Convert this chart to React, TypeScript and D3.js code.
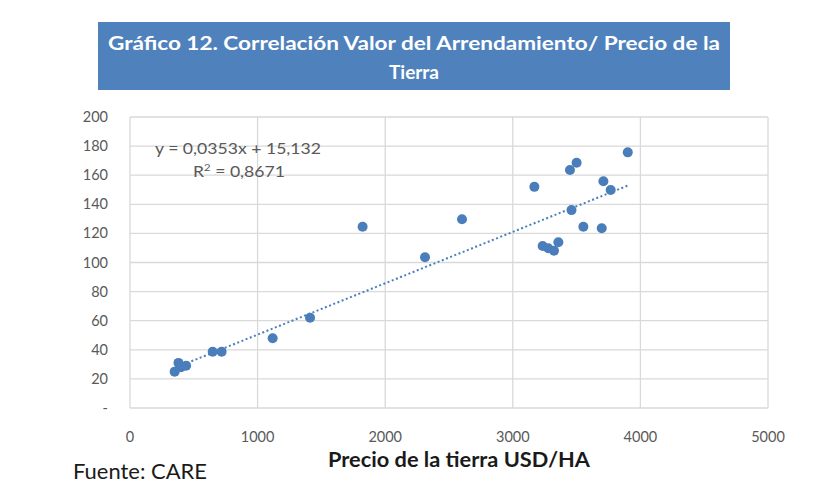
import React from "react";
import * as d3 from "d3";

const priceUSD = [350, 380, 400, 440, 648, 718, 1118, 1411, 1823, 2312, 2602, 3169, 3234, 3278, 3323, 3357, 3448, 3460, 3500, 3553, 3697, 3710, 3767, 3901];
const rentValue = [25, 31, 28, 29, 38.7, 38.7, 47.9, 62, 124.6, 103.6, 129.7, 152, 111.3, 109.8, 108.1, 113.9, 163.6, 136, 168.6, 124.6, 123.5, 155.8, 149.8, 175.7];
const xTicks = [0, 1000, 2000, 3000, 4000, 5000];
const yTicks = [0, 20, 40, 60, 80, 100, 120, 140, 160, 180, 200];
const slope = 0.0353;
const intercept = 15.132;
const titleLines = ["Gráfico 12. Correlación Valor del Arrendamiento/ Precio de la", "Tierra"];

export default function App() {
  const x = d3.scaleLinear().domain([0, 5000]).range([130, 768]);
  const y = d3.scaleLinear().domain([0, 200]).range([408, 117]);
  const xMin = d3.min(priceUSD) as number;
  const xMax = d3.max(priceUSD) as number;
  const font = "Lato, 'Open Sans', sans-serif";
  return (
    <svg width={818} height={484} style={{ position: "absolute", left: 0, top: 0, background: "#fff" }}>
      <rect x={98} y={22} width={632} height={68} fill="#4f81bd" />
      <text x={414} y={50} textAnchor="middle" fill="#fff" fontFamily={font} fontSize={19} fontWeight={700} textLength={612} lengthAdjust="spacingAndGlyphs">{titleLines[0]}</text>
      <text x={414} y={79} textAnchor="middle" fill="#fff" fontFamily={font} fontSize={19} fontWeight={700}>{titleLines[1]}</text>
      {yTicks.map(v => (
        <line key={"gy" + v} x1={130} x2={768} y1={y(v)} y2={y(v)} stroke="#d9d9d9" strokeWidth={1.3} />
      ))}
      {xTicks.map(v => (
        <line key={"gx" + v} x1={x(v)} x2={x(v)} y1={117} y2={408} stroke="#d9d9d9" strokeWidth={1.3} />
      ))}
      {yTicks.map(v => (
        <text key={"ty" + v} x={108} y={y(v) + 5} textAnchor="end" fill="#595959" fontFamily={font} fontSize={14.5}>{v === 0 ? "-" : v}</text>
      ))}
      {xTicks.map(v => (
        <text key={"tx" + v} x={x(v)} y={442} textAnchor="middle" fill="#595959" fontFamily={font} fontSize={14.5}>{v}</text>
      ))}
      <line x1={x(xMin)} x2={x(xMax)} y1={y(slope * xMin + intercept)} y2={y(slope * xMax + intercept)} stroke="#4a7ebb" strokeWidth={2} strokeDasharray="2,2.5" />
      {priceUSD.map((p, i) => (
        <circle key={i} cx={x(p)} cy={y(rentValue[i])} r={5} fill="#4a7ebb" />
      ))}
      <text x={155} y={154} fill="#595959" fontFamily={font} fontSize={15} textLength={166} lengthAdjust="spacingAndGlyphs">y = 0,0353x + 15,132</text>
      <text x={193} y={177} fill="#595959" fontFamily={font} fontSize={15.5} textLength={92} lengthAdjust="spacingAndGlyphs">R<tspan dy={-6} fontSize={10}>2</tspan><tspan dy={6}> = 0,8671</tspan></text>
      <text x={328} y={467} fill="#1a1a1a" fontFamily={font} fontSize={20} fontWeight={700} textLength={262} lengthAdjust="spacingAndGlyphs">Precio de la tierra USD/HA</text>
      <text x={73} y={479} fill="#1a1a1a" fontFamily={font} fontSize={21} textLength={134} lengthAdjust="spacingAndGlyphs">Fuente: CARE</text>
    </svg>
  );
}
